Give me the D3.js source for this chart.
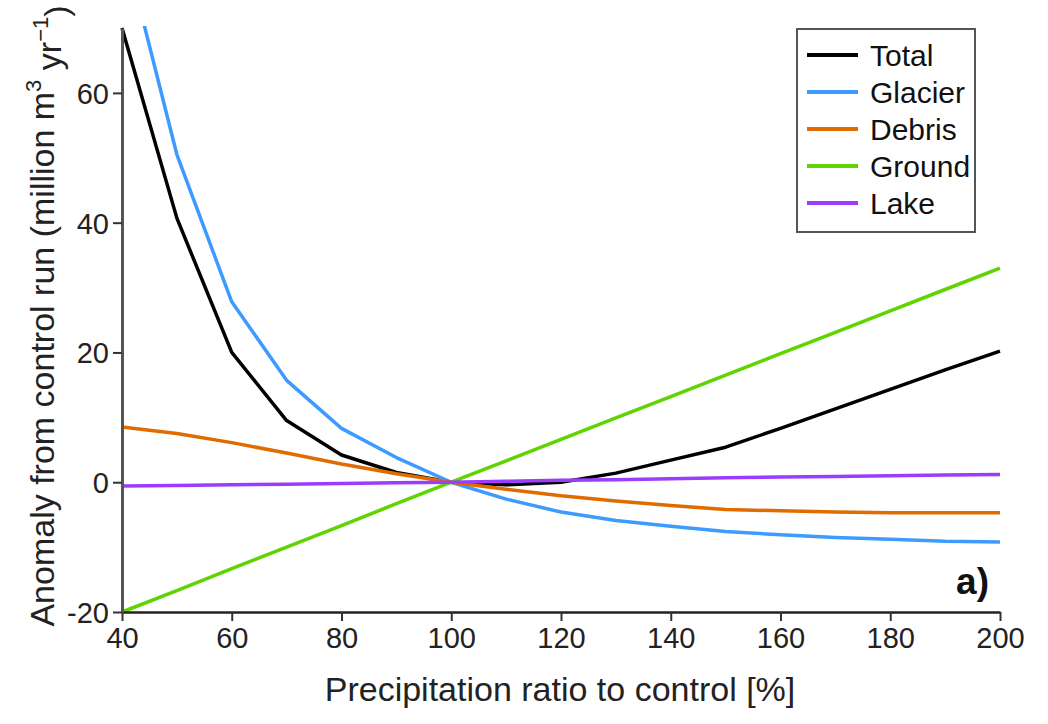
<!DOCTYPE html>
<html>
<head>
<meta charset="utf-8">
<script src="https://cdn.jsdelivr.net/npm/d3@7"></script>
<style>
  body { margin: 0; background: #fff; }
  svg { font-family: "Liberation Sans", Arial, sans-serif; }
</style>
</head>
<body>
<div id="chart"></div>
<script>
'use strict'
var width = 1048;
var height = 724;

// precipitation ratio (%)
var ratio = [40, 50, 60, 70, 80, 90, 100, 110, 120, 130, 140, 150, 160, 170, 180, 190, 200];

// anomaly from control run (million m3 / yr)
var total   = [70, 40.7, 20, 9.5, 4.2, 1.5, 0, -0.4, 0, 1.4, 3.4, 5.4, 8.3, 11.3, 14.3, 17.3, 20.2];
var glacier = [84, 50.5, 27.8, 15.7, 8.3, 3.8, 0, -2.6, -4.6, -5.9, -6.8, -7.6, -8.1, -8.5, -8.8, -9.1, -9.2];
var debris  = [8.5, 7.5, 6.1, 4.5, 2.8, 1.3, 0, -1.1, -2.1, -2.9, -3.6, -4.2, -4.4, -4.6, -4.7, -4.7, -4.7];
var ground  = [-20, -16.7, -13.3, -10, -6.7, -3.3, 0, 3.3, 6.6, 9.9, 13.2, 16.5, 19.8, 23.1, 26.4, 29.7, 33];
var lake    = [-0.6, -0.5, -0.4, -0.3, -0.2, -0.1, 0, 0.15, 0.3, 0.4, 0.55, 0.7, 0.8, 0.9, 1.0, 1.1, 1.2];

var seriesNames = ['Total', 'Glacier', 'Debris', 'Ground', 'Lake'];
var seriesColors = ['#000000', '#3d9bff', '#e06c00', '#5fd400', '#9b3cff'];
var seriesValues = [total, glacier, debris, ground, lake];

var xTicks = [40, 60, 80, 100, 120, 140, 160, 180, 200];
var yTicks = [-20, 0, 20, 40, 60];

var margin = {left: 122, right: 48, top: 28, bottom: 112};

var svg = d3.select('#chart')
	.append('svg')
	.attr('width', width)
	.attr('height', height);

var x = d3.scaleLinear()
	.domain([40, 200])
	.range([margin.left, width - margin.right]);

var y = d3.scaleLinear()
	.domain([-20, 70])
	.range([height - margin.bottom, margin.top]);

svg.append('defs').append('clipPath')
	.attr('id', 'plotclip')
	.append('rect')
		.attr('x', x(40) - 2)
		.attr('y', y(70) - 2)
		.attr('width', x(200) - x(40) + 4)
		.attr('height', y(-20) - y(70) + 4);

var line = d3.line()
	.x(function(d, i){ return x(ratio[i]); })
	.y(function(d){ return y(d); });

// draw series
svg.append('g')
	.attr('clip-path', 'url(#plotclip)')
	.selectAll('path')
	.data(seriesValues)
	.enter()
	.append('path')
		.attr('d', line)
		.attr('fill', 'none')
		.attr('stroke', function(d, i){ return seriesColors[i]; })
		.attr('stroke-width', 3.5)
		.attr('stroke-linejoin', 'round');

// axes
var fmt = function(d){ return String(d); }; // plain hyphen for negatives

var xAxis = svg.append('g')
	.attr('transform', 'translate(0,' + y(-20) + ')')
	.call(d3.axisBottom(x).tickValues(xTicks).tickFormat(fmt).tickSize(9).tickSizeOuter(0).tickPadding(6));

var yAxis = svg.append('g')
	.attr('transform', 'translate(' + x(40) + ',0)')
	.call(d3.axisLeft(y).tickValues(yTicks).tickFormat(fmt).tickSize(9).tickSizeOuter(0).tickPadding(4));

xAxis.select('.domain').attr('stroke', '#222').attr('stroke-width', 2.5);
yAxis.select('.domain').attr('stroke', '#555').attr('stroke-width', 3);
svg.selectAll('.tick line').attr('stroke', '#333').attr('stroke-width', 2);
svg.selectAll('.tick text')
	.style('font-size', '29px')
	.style('font-family', '"Liberation Sans", Arial, sans-serif')
	.attr('fill', '#222');
yAxis.selectAll('.tick text').attr('dy', '0.36em');

// axis titles
svg.append('text')
	.attr('x', 560)
	.attr('y', 701)
	.attr('text-anchor', 'middle')
	.style('font-size', '34px')
	.attr('fill', '#222')
	.text('Precipitation ratio to control [%]');

var yt = svg.append('text')
	.attr('transform', 'translate(54,' + 316 + ') rotate(-90)')
	.attr('text-anchor', 'middle')
	.style('font-size', '34px')
	.attr('fill', '#222');
yt.append('tspan').text('Anomaly from control run (million m');
yt.append('tspan').text('3').attr('dy', '-0.6em').style('font-size', '22px');
yt.append('tspan').text(' yr').attr('dy', '0.6em');
yt.append('tspan').text('\u22121').attr('dy', '-0.6em').style('font-size', '22px');
yt.append('tspan').text(')').attr('dy', '0.6em');

// panel label
svg.append('text')
	.attr('x', 989)
	.attr('y', 594)
	.attr('text-anchor', 'end')
	.style('font-size', '37px')
	.style('font-weight', 'bold')
	.attr('fill', '#111')
	.text('a)');

// legend
var legend = svg.append('g').attr('transform', 'translate(797,29)');
legend.append('rect')
	.attr('width', 178)
	.attr('height', 203)
	.attr('fill', '#fff')
	.attr('stroke', '#555')
	.attr('stroke-width', 2);

var entries = legend.selectAll('g.entry')
	.data(seriesNames)
	.enter()
	.append('g')
		.attr('class', 'entry')
		.attr('transform', function(d, i){ return 'translate(0,' + (26 + i * 37) + ')'; });

entries.append('line')
	.attr('x1', 10).attr('x2', 61)
	.attr('y1', 0).attr('y2', 0)
	.attr('stroke', function(d, i){ return seriesColors[i]; })
	.attr('stroke-width', 4);

entries.append('text')
	.attr('x', 73)
	.attr('y', 0)
	.attr('dy', '0.36em')
	.style('font-size', '30px')
	.attr('fill', '#111')
	.text(function(d){ return d; });
</script>
</body>
</html>
